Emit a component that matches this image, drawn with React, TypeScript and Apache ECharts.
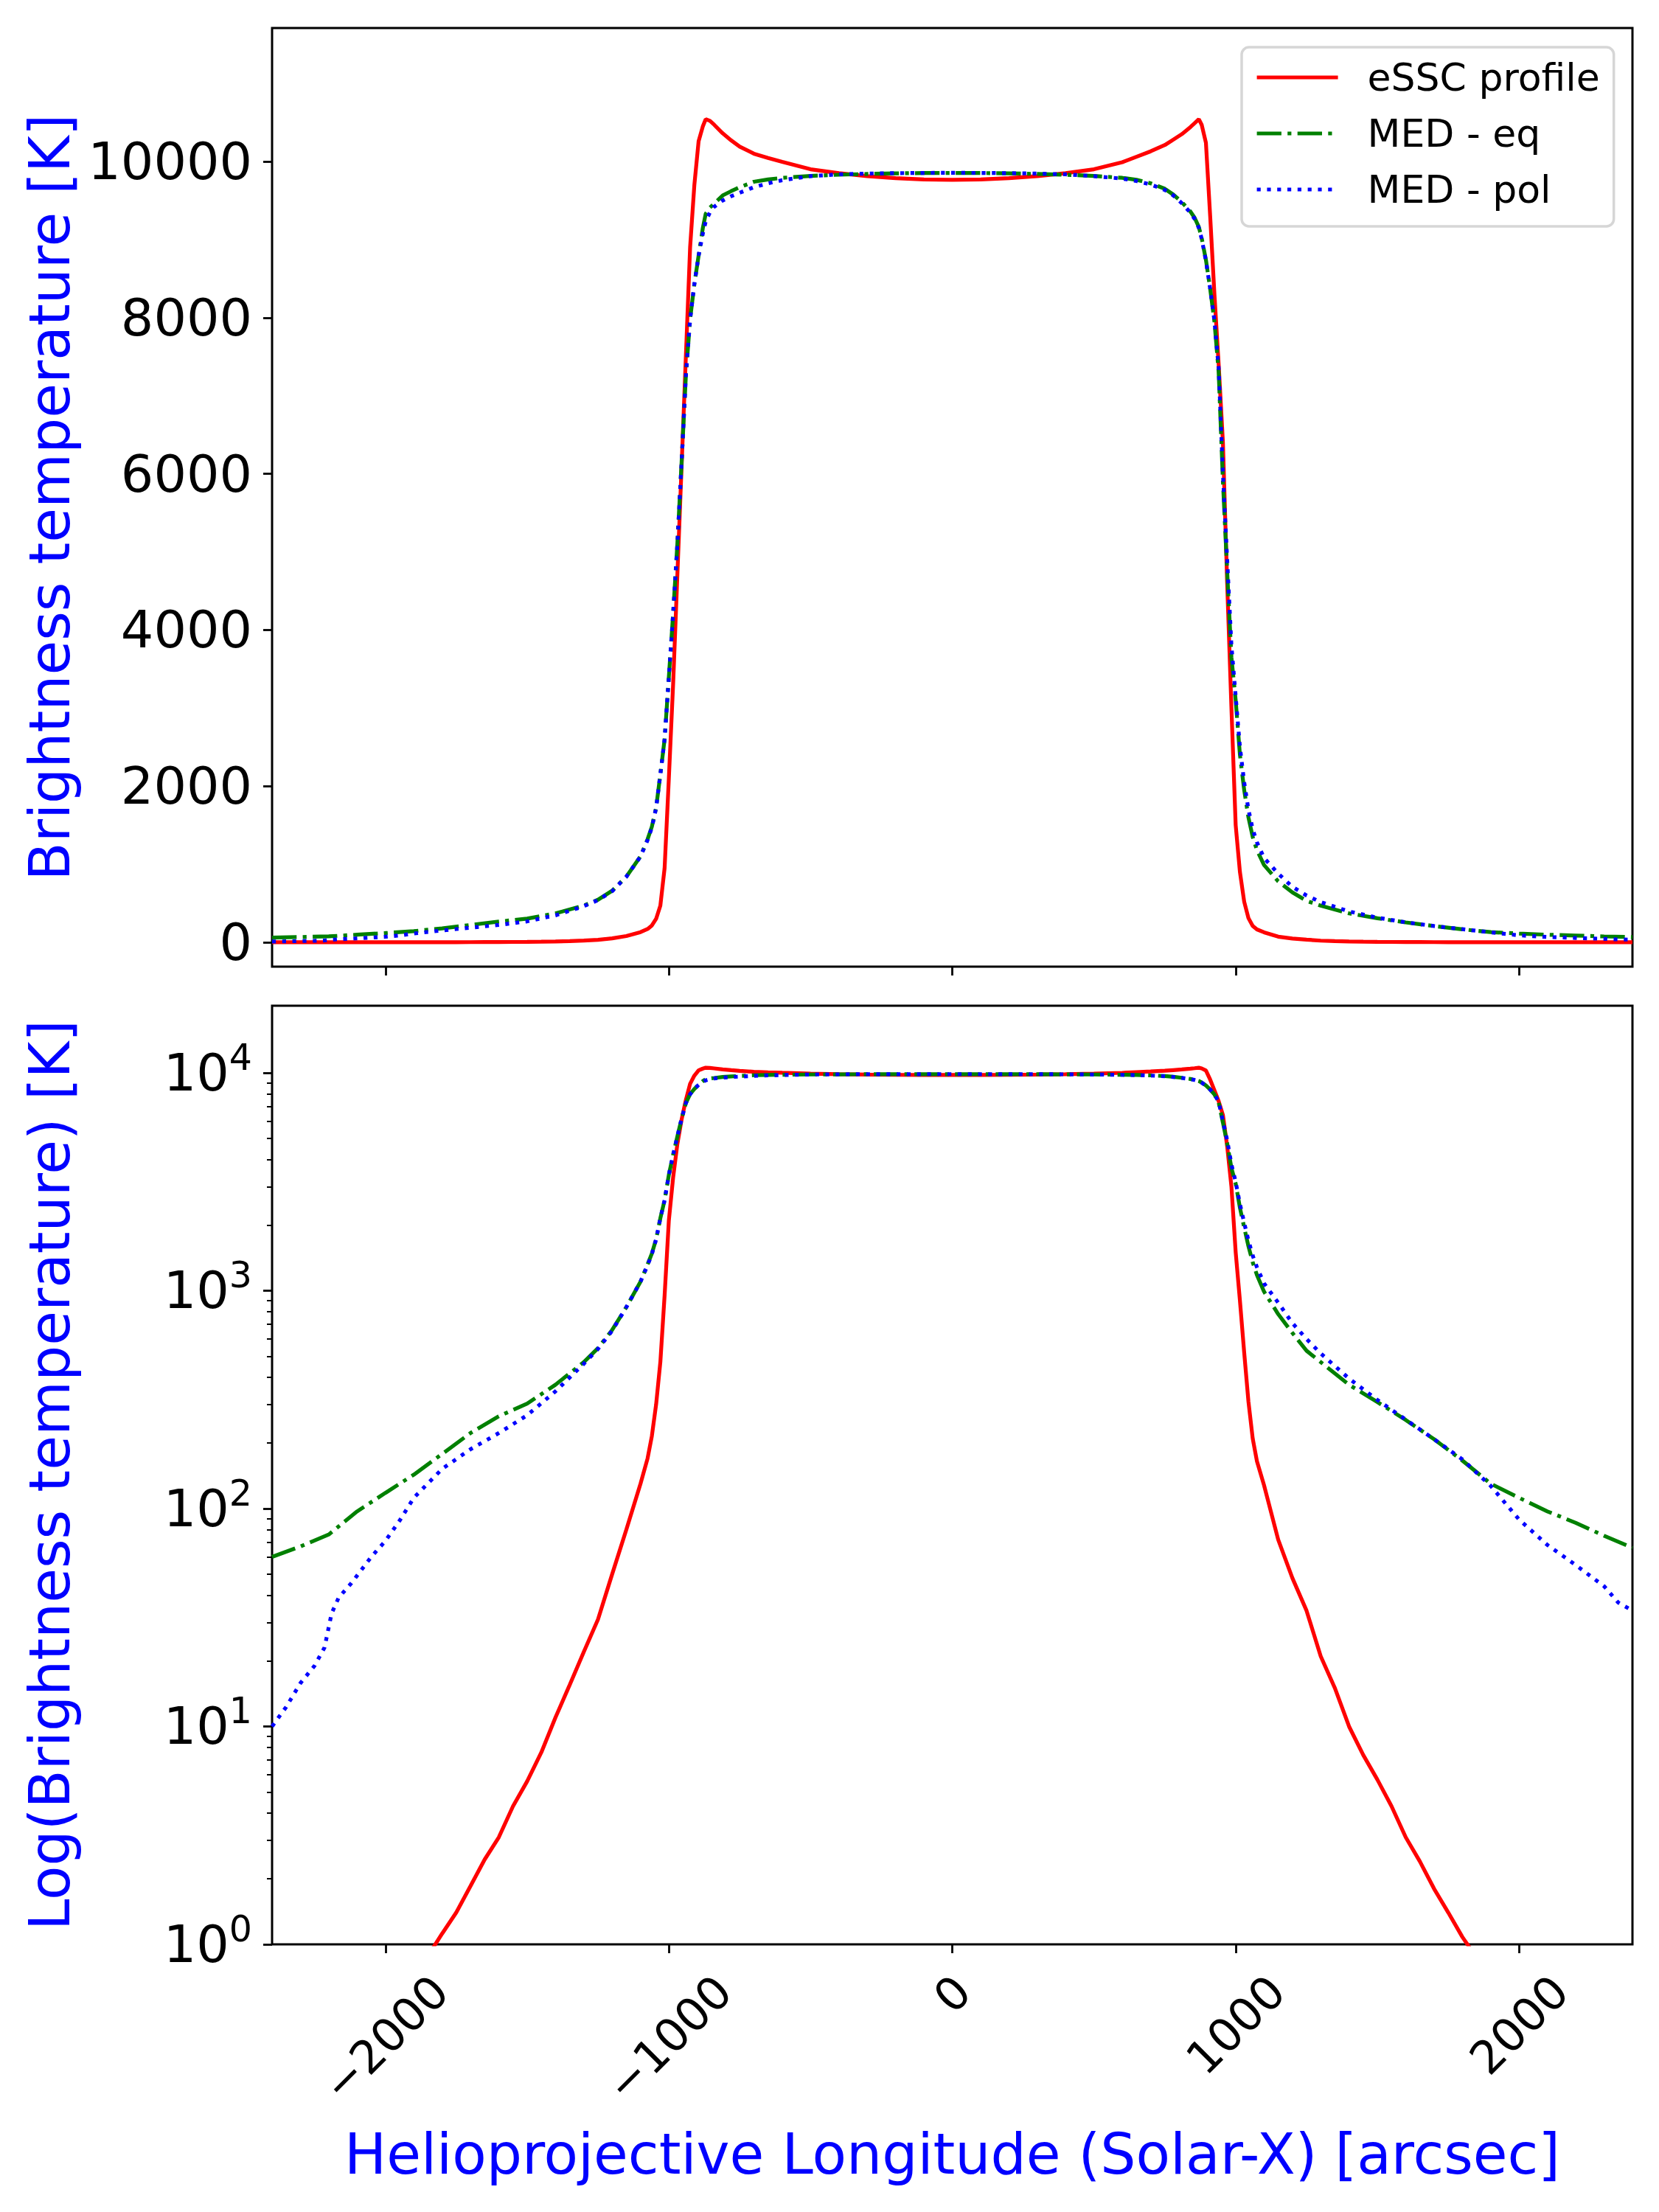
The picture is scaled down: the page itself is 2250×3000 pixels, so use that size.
import React, { useEffect, useRef } from 'react';
import * as echarts from 'echarts';

const F = 'DejaVu Sans';

const xTicks = [-2000, -1000, 0, 1000, 2000];
const linTicks = [0, 2000, 4000, 6000, 8000, 10000];
const logTicks = [1, 10, 100, 1000, 10000];
const logMinorTicks = [
  2, 3, 4, 5, 6, 7, 8, 9,
  20, 30, 40, 50, 60, 70, 80, 90,
  200, 300, 400, 500, 600, 700, 800, 900,
  2000, 3000, 4000, 5000, 6000, 7000, 8000, 9000,
];

const seriesNames = ['eSSC profile', 'MED - eq', 'MED - pol'];
const xName = 'Helioprojective Longitude (Solar-X) [arcsec]';
const yNameTop = 'Brightness temperature [K]';
const yNameBottom = 'Log(Brightness temperature) [K]';

// eSSC profile
const redX = [
  -2400, -2300, -2200, -2100, -2000, -1900, -1800, -1750, -1700, -1650, -1600, -1550, -1500, -1450, -1400, -1350,
  -1300, -1250, -1200, -1150, -1100, -1075, -1060, -1045, -1030, -1015, -1000, -985, -970, -955, -940, -925,
  -910, -895, -880, -870, -855, -840, -810, -780, -750, -700, -650, -600, -500, -400, -300, -200, -100, 0,
  100, 200, 300, 400, 500, 600, 650, 700, 750, 780, 810, 840, 855, 870, 880, 895,
  910, 925, 940, 955, 970, 985, 1000, 1015, 1030, 1045, 1060, 1075, 1100, 1150, 1200, 1250,
  1300, 1350, 1400, 1450, 1500, 1550, 1600, 1650, 1700, 1750, 1800, 1900, 2000, 2100, 2200, 2300, 2400,
];
const redY = [
  0.05, 0.08, 0.14, 0.25, 0.42, 0.7, 1.12, 1.4, 1.85, 2.45, 3.1, 4.3, 5.6, 7.6, 11, 15.5,
  22, 31, 50, 80, 130, 170, 215, 300, 470, 950, 2100, 3300, 4700, 6100, 7500, 8900,
  9700, 10260, 10450, 10541, 10520, 10470, 10360, 10270, 10190, 10100, 10045, 9995, 9900, 9850, 9812, 9787, 9770, 9764,
  9770, 9787, 9812, 9850, 9900, 9990, 10060, 10130, 10210, 10280, 10350, 10440, 10490, 10541, 10470, 10240,
  9300, 8300, 7400, 6400, 4600, 3000, 1500, 900, 520, 310, 210, 165, 128, 72, 48, 34,
  21, 15, 10, 7.4, 5.7, 4.3, 3.1, 2.4, 1.8, 1.4, 1.08, 0.7, 0.42, 0.25, 0.14, 0.08, 0.05,
];

// MED - eq
const eqX = [
  -2400, -2300, -2200, -2100, -2000, -1900, -1800, -1700, -1600, -1500, -1400, -1300, -1250, -1200, -1150,
  -1100, -1075, -1060, -1045, -1030, -1015, -1000, -985, -970, -955, -940, -925, -910, -895, -880,
  -870, -855, -840, -810, -780, -750, -700, -650, -600, -500, -400, -300, -200, -100, 0,
  100, 200, 300, 400, 500, 600, 650, 700, 750, 780, 810, 840, 855, 870, 880,
  895, 910, 925, 940, 955, 970, 985, 1000, 1015, 1030, 1045, 1060, 1075, 1100, 1150,
  1200, 1250, 1300, 1400, 1500, 1600, 1700, 1800, 1900, 2000, 2100, 2200, 2300, 2400,
];
const eqY = [
  60, 67, 76, 97, 118, 143, 178, 222, 265, 303, 370, 470, 545, 660, 840,
  1100, 1320, 1480, 1720, 2150, 2600, 3400, 4200, 5100, 6150, 7250, 7980, 8430, 8794, 9150,
  9330, 9410, 9460, 9565, 9620, 9670, 9740, 9770, 9790, 9815, 9830, 9840, 9848, 9852, 9853,
  9852, 9848, 9840, 9830, 9815, 9790, 9765, 9720, 9650, 9575, 9480, 9360, 9280, 9160, 9020,
  8740, 8370, 7950, 7300, 5900, 4750, 3650, 3100, 2400, 1950, 1600, 1350, 1180, 990, 780,
  640, 530, 470, 370, 308, 255, 208, 166, 130, 112, 97, 86, 75, 66,
];

// MED - pol
const polX = [
  -2400, -2350, -2300, -2250, -2215, -2190, -2165, -2120, -2050, -2000, -1950, -1900, -1800, -1700, -1600,
  -1500, -1400, -1300, -1250, -1200, -1150, -1100, -1075, -1060, -1045, -1030, -1015, -1000, -985, -970,
  -955, -940, -925, -910, -895, -880, -870, -855, -840, -810, -780, -750, -700, -650, -600,
  -500, -400, -300, -200, -100, 0,
  100, 200, 300, 400, 500, 600, 650, 700, 750, 780, 810, 840, 855, 870, 880,
  895, 910, 925, 940, 955, 970, 985, 1000, 1015, 1030, 1045, 1060, 1075, 1100, 1150,
  1200, 1250, 1300, 1400, 1500, 1600, 1700, 1800, 1900, 2000, 2100, 2200, 2300, 2350, 2400,
];
const polY = [
  10, 12.3, 15.8, 19, 23, 33, 39, 45.5, 60, 71, 88, 112, 152, 187, 222,
  268, 345, 462, 540, 655, 840, 1100, 1310, 1470, 1720, 2150, 2600, 3400, 4200, 5100,
  6150, 7250, 7980, 8430, 8794, 9080, 9230, 9350, 9420, 9500, 9555, 9600, 9670, 9720, 9760,
  9812, 9835, 9845, 9850, 9853, 9855,
  9853, 9850, 9845, 9835, 9812, 9780, 9750, 9705, 9635, 9565, 9465, 9345, 9265, 9150, 9010,
  8730, 8370, 7960, 7350, 6000, 4900, 3800, 3150, 2500, 2050, 1700, 1450, 1280, 1080, 880,
  710, 600, 515, 395, 315, 256, 208, 168, 127, 89, 68, 55, 44, 37, 34,
];

const LW = 5.2;
const RED = '#ff0000';
const GREEN = '#008000';
const BLUE = '#0000ff';
const lineStyles = [
  { color: RED, width: LW, type: 'solid' as any },
  { color: GREEN, width: LW, type: [33.3, 8.3, 5.2, 8.3] as any },
  { color: BLUE, width: LW, type: [5.2, 8.6] as any },
];

function zip(xs: number[], ys: number[]) {
  return xs.map((x, i) => [x, ys[i]]);
}

const XF = 62; // x tick label font
const XH = 72; // x tick label line height
const YF = 70; // y tick label font
const NF = 76; // axis name font

function xLabelText(v: number) {
  return v < 0 ? '\u2212' + Math.abs(v) : String(v);
}

export default function App() {
  const ref = useRef<HTMLDivElement>(null);
  useEffect(() => {
    if (!ref.current) return;
    const chart = echarts.init(ref.current, undefined, { renderer: 'svg' });

    // per-label rich spacers so that the rotated labels are centred under the ticks
    const ctx = document.createElement('canvas').getContext('2d')!;
    ctx.font = `${XF}px "${F}"`;
    const xRich: any = { t: { fontSize: XF, fontFamily: F, color: '#000', lineHeight: XH } };
    xTicks.forEach((v, i) => {
      const L = ctx.measureText(xLabelText(v)).width;
      const k = (L + XH) / 4;
      xRich['g' + i] = { width: 1, height: 2 * k, lineHeight: 2 * k, fontSize: 10, color: 'rgba(0,0,0,0)' };
      xRich['w' + i] = { width: 2 * k, height: XH, lineHeight: XH, fontSize: 10, color: 'rgba(0,0,0,0)' };
    });

    const tickStyle = { color: '#000', width: 2.8 };
    const noLine = { show: false, onZero: false };
    const gridCommon = { show: true, borderColor: '#000', borderWidth: 3, backgroundColor: 'rgba(0,0,0,0)' };

    const makeSeries = (xi: number, yi: number) =>
      [zip(redX, redY), zip(eqX, eqY), zip(polX, polY)].map((d, s) => ({
        name: seriesNames[s],
        type: 'line',
        xAxisIndex: xi,
        yAxisIndex: yi,
        data: d,
        symbol: 'none',
        showSymbol: false,
        clip: true,
        lineStyle: lineStyles[s],
        itemStyle: { color: lineStyles[s].color },
        z: 3 + s,
        emphasis: { disabled: true },
      }));

    const option: any = {
      animation: false,
      textStyle: { fontFamily: F },
      grid: [
        { ...gridCommon, left: 369, top: 38, width: 1845, height: 1273 },
        { ...gridCommon, left: 369, top: 1364, width: 1845, height: 1273 },
      ],
      legend: {
        orient: 'vertical',
        left: 1684,
        top: 64,
        padding: [11, 19, 20, 18],
        itemWidth: 110,
        itemHeight: 60,
        itemGap: 16,
        backgroundColor: '#ffffff',
        borderColor: '#d6d6d6',
        borderWidth: 3.5,
        borderRadius: 10,
        selectedMode: false,
        textStyle: { fontSize: 52, fontFamily: F, color: '#000', lineHeight: 60, padding: [0, 0, 0, 35] },
        data: seriesNames.map((n, i) => ({
          name: n,
          lineStyle: { ...lineStyles[i] },
          itemStyle: { color: 'rgba(0,0,0,0)', borderWidth: 0, opacity: 0 },
        })),
      },
      xAxis: [
        {
          type: 'value', gridIndex: 0, min: -2400, max: 2400,
          axisLine: noLine, splitLine: { show: false },
          axisTick: { show: true, customValues: xTicks, length: 12, lineStyle: tickStyle },
          axisLabel: { show: false },
        },
        {
          type: 'value', gridIndex: 1, min: -2400, max: 2400,
          axisLine: noLine, splitLine: { show: false },
          axisTick: { show: true, customValues: xTicks, length: 12, lineStyle: tickStyle },
          axisLabel: {
            show: true, customValues: xTicks, rotate: 45, align: 'center', verticalAlign: 'middle', margin: 28,
            formatter: (v: number) => {
              const i = xTicks.indexOf(Math.round(v));
              return `{g${i}| }\n{t|${xLabelText(v)}}{w${i}| }`;
            },
            rich: xRich,
          },
          name: xName, nameLocation: 'middle', nameGap: 246,
          nameTextStyle: { color: BLUE, fontSize: NF, fontFamily: F },
        },
      ],
      yAxis: [
        {
          type: 'value', gridIndex: 0, min: -312, max: 11709,
          axisLine: noLine, splitLine: { show: false },
          axisTick: { show: true, customValues: linTicks, length: 12, lineStyle: tickStyle },
          axisLabel: {
            show: true, customValues: linTicks, fontSize: YF, fontFamily: F, color: '#000', margin: 27,
            formatter: (v: number) => String(v),
          },
          name: yNameTop, nameLocation: 'middle', nameGap: 264,
          nameTextStyle: { color: BLUE, fontSize: NF, fontFamily: F },
        },
        {
          type: 'log', logBase: 10, gridIndex: 1, min: 1, max: 20300,
          axisLine: noLine, splitLine: { show: false },
          axisTick: { show: true, customValues: logTicks, length: 12, lineStyle: tickStyle },
          axisLabel: {
            show: true, customValues: logTicks, margin: 27,
            formatter: (v: number) => `{b|10}{s|${Math.round(Math.log10(v))}}`,
            rich: {
              b: { fontSize: YF, fontFamily: F, color: '#000', lineHeight: 90 },
              s: { fontSize: 49, fontFamily: F, color: '#000', lineHeight: 50, verticalAlign: 'top' },
            },
          },
          name: yNameBottom, nameLocation: 'middle', nameGap: 264,
          nameTextStyle: { color: BLUE, fontSize: NF, fontFamily: F },
        },
        {
          type: 'log', logBase: 10, gridIndex: 1, min: 1, max: 20300, position: 'left',
          axisLine: noLine, splitLine: { show: false },
          axisTick: { show: true, customValues: logMinorTicks, length: 7, lineStyle: { color: '#000', width: 2 } },
          axisLabel: { show: false },
        },
      ],
      series: [...makeSeries(0, 0), ...makeSeries(1, 1)],
    };
    chart.setOption(option);
    return () => chart.dispose();
  }, []);
  return (
    <div
      ref={ref}
      style={{ position: 'absolute', left: 0, top: 0, width: 2250, height: 3000, background: '#fff' }}
    />
  );
}
